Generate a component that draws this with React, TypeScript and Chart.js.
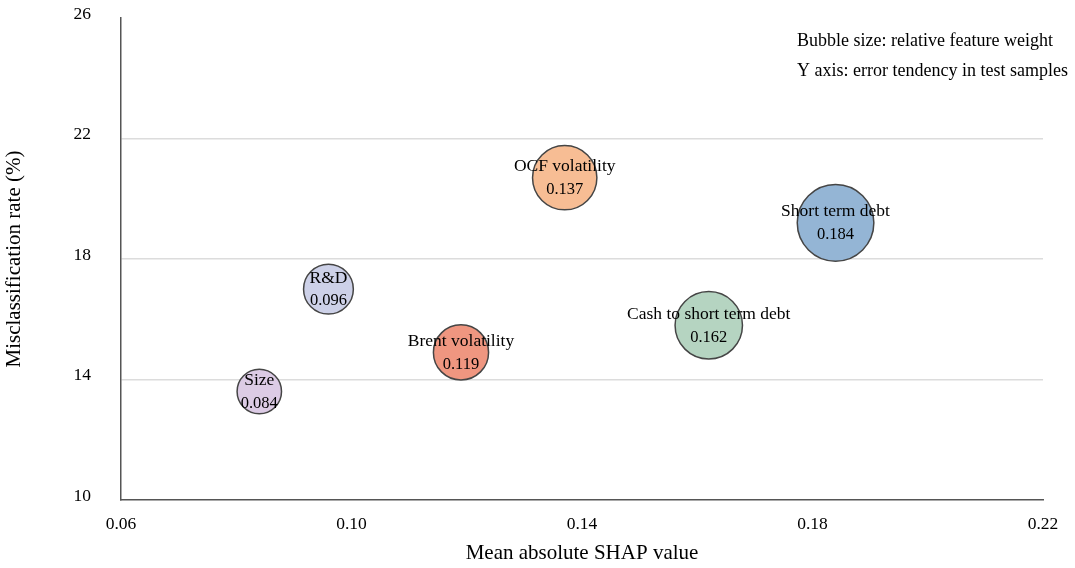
import { useEffect, useRef } from "react";
import { Chart, registerables } from "chart.js";

Chart.register(...registerables);

const features = ["Size", "R&D", "Brent volatility", "OCF volatility", "Cash to short term debt", "Short term debt"];
const shapValues = [0.084, 0.096, 0.119, 0.137, 0.162, 0.184];
const misclassRates = [13.6, 17.0, 14.9, 20.7, 15.8, 19.2];
const featureWeights = [58, 65, 72, 84, 88, 100];
const bubbleColors = ["#dccbe5", "#cdd1e8", "#ef9680", "#f7bd94", "#b5d4c1", "#94b5d5"];
const xTicks = [0.06, 0.1, 0.14, 0.18, 0.22];
const yTicks = [10, 14, 18, 22, 26];
const notes = ["Bubble size: relative feature weight", "Y axis: error tendency in test samples"];

const FONT = "'Liberation Serif', 'Times New Roman', serif";
const MAX_RADIUS = 38.3;

export default function App() {
  const canvasRef = useRef<HTMLCanvasElement | null>(null);

  useEffect(() => {
    const canvas = canvasRef.current;
    if (!canvas) return;

    const labelPlugin = {
      id: "bubbleLabels",
      afterDatasetsDraw(chart: any) {
        const ctx = chart.ctx;
        const meta = chart.getDatasetMeta(0);
        ctx.save();
        ctx.fillStyle = "#000";
        ctx.textAlign = "center";
        ctx.textBaseline = "middle";
        meta.data.forEach((el: any, i: number) => {
          ctx.font = `17.5px ${FONT}`;
          ctx.fillText(features[i], el.x, el.y - 11);
          ctx.font = `16.5px ${FONT}`;
          ctx.fillText(shapValues[i].toFixed(3), el.x, el.y + 12);
        });
        ctx.restore();
      },
      afterDraw(chart: any) {
        const ctx = chart.ctx;
        const area = chart.chartArea;
        ctx.save();
        ctx.fillStyle = "#000";
        ctx.textAlign = "left";
        ctx.textBaseline = "middle";
        ctx.font = `18px ${FONT}`;
        notes.forEach((t, i) => {
          ctx.fillText(t, area.right - 246, area.top + 23 + i * 30);
        });
        ctx.restore();
      },
    };

    const chart = new Chart(canvas, {
      type: "bubble",
      data: {
        datasets: [
          {
            data: shapValues.map((x, i) => ({
              x,
              y: misclassRates[i],
              r: (featureWeights[i] / 100) * MAX_RADIUS,
            })),
            backgroundColor: bubbleColors,
            borderColor: "#454545",
            borderWidth: 1.5,
            hoverRadius: 0,
          } as any,
        ],
      },
      options: {
        animation: false,
        responsive: true,
        maintainAspectRatio: false,
        layout: { autoPadding: false, padding: { top: 18, right: 32, left: 0, bottom: 0 } },
        plugins: {
          legend: { display: false },
          tooltip: { enabled: false },
        },
        events: [],
        scales: {
          x: {
            type: "linear",
            min: 0.06,
            max: 0.22,
            afterBuildTicks: (scale: any) => {
              scale.ticks = xTicks.map((v) => ({ value: v }));
            },
            afterFit: (scale: any) => {
              scale.height = 68;
              scale.paddingLeft = 0;
              scale.paddingRight = 0;
            },
            grid: { display: false, drawTicks: false },
            border: { display: true, color: "#555", width: 1.5 },
            ticks: {
              color: "#000",
              font: { family: FONT, size: 17.5 },
              padding: 14,
              maxRotation: 0,
              callback: (v: any) => Number(v).toFixed(2),
            },
            title: {
              display: true,
              text: "Mean absolute SHAP value",
              color: "#000",
              font: { family: FONT, size: 21 },
              padding: { top: 0, bottom: 2 },
            },
          },
          y: {
            type: "linear",
            min: 10,
            max: 26,
            afterBuildTicks: (scale: any) => {
              scale.ticks = yTicks.map((v) => ({ value: v }));
            },
            afterFit: (scale: any) => {
              scale.width = 121;
              scale.paddingTop = 0;
              scale.paddingBottom = 0;
            },
            grid: {
              drawTicks: false,
              color: (ctx: any) =>
                ctx.tick && (ctx.tick.value === 10 || ctx.tick.value === 26) ? "rgba(0,0,0,0)" : "#dcdcdc",
              lineWidth: 1.5,
            },
            border: { display: true, color: "#555", width: 1.5 },
            ticks: {
              color: "#000",
              font: { family: FONT, size: 17.5 },
              padding: 30,
              labelOffset: -4,
              callback: (v: any) => String(v),
            },
            title: {
              display: true,
              text: "Misclassification rate (%)",
              color: "#000",
              font: { family: FONT, size: 21 },
              padding: { top: 2, bottom: 0 },
            },
          },
        },
      },
      plugins: [labelPlugin],
    });

    return () => chart.destroy();
  }, []);

  return (
    <div style={{ position: "absolute", left: 0, top: 0, width: 1075, height: 568, background: "#fff" }}>
      <canvas ref={canvasRef} />
    </div>
  );
}
